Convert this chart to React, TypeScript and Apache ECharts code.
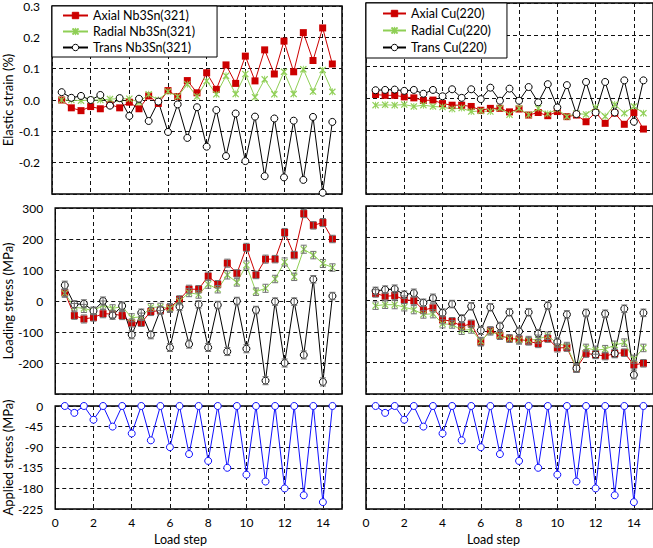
import React, { useEffect, useRef } from 'react';
import * as echarts from 'echarts';

const steps = [0.5, 1, 1.5, 2, 2.5, 3, 3.5, 4, 4.5, 5, 5.5, 6, 6.5, 7, 7.5, 8, 8.5, 9, 9.5, 10, 10.5, 11, 11.5, 12, 12.5, 13, 13.5, 14, 14.5];

// Elastic strain (%) - Nb3Sn(321)
const axialNbStrain = [0, -0.025, -0.034, -0.021, -0.028, -0.014, -0.025, -0.007, -0.028, 0.013, -0.011, 0.03, 0.011, 0.062, 0.023, 0.087, 0.034, 0.112, 0.053, 0.14, 0.061, 0.16, 0.083, 0.188, 0.09, 0.215, 0.126, 0.23, 0.115];
const radialNbStrain = [0, 0, -0.002, 0, 0, 0.003, 0.004, 0.004, -0.007, 0.018, 0, 0.027, 0.011, 0.05, 0.011, 0.061, 0.018, 0.077, 0.019, 0.083, 0.009, 0.066, 0.018, 0.09, 0.019, 0.098, 0.027, 0.096, 0.026];
const transNbStrain = [0.025, 0.007, 0.013, 0, 0.016, -0.018, 0.006, -0.051, 0.004, -0.067, -0.005, -0.102, -0.014, -0.121, -0.023, -0.149, -0.032, -0.179, -0.043, -0.195, -0.053, -0.243, -0.059, -0.247, -0.066, -0.255, -0.054, -0.296, -0.07];

// Elastic strain (%) - Cu(220)
const axialCuStrain = [0.0125, 0.01, 0.01, 0.005, 0.002, -0.006, -0.005, -0.016, -0.021, -0.021, -0.025, -0.037, -0.031, -0.031, -0.042, -0.033, -0.052, -0.044, -0.054, -0.041, -0.057, -0.052, -0.073, -0.044, -0.078, -0.046, -0.081, -0.044, -0.096];
const radialCuStrain = [-0.021, -0.02, -0.021, -0.019, -0.025, -0.021, -0.025, -0.027, -0.033, -0.03, -0.041, -0.039, -0.041, -0.03, -0.051, -0.031, -0.051, -0.031, -0.048, -0.033, -0.057, -0.047, -0.05, -0.028, -0.056, -0.019, -0.046, -0.025, -0.046];
const transCuStrain = [0.026, 0.027, 0.028, 0.024, 0.027, 0.015, 0.027, 0.007, 0.029, 0.002, 0.029, -0.002, 0.034, -0.007, 0.031, -0.007, 0.036, -0.012, 0.045, -0.028, 0.042, -0.049, 0.052, -0.044, 0.052, -0.044, 0.057, -0.073, 0.057];

// Loading stress (MPa) - Nb3Sn
const axialNbStress = [27, -47, -58, -53, -41, -42, -47, -71, -70, -34, -31, -21, 5, 38, 38, 80, 54, 122, 89, 173, 84, 135, 135, 221, 148, 282, 244, 253, 200];
const radialNbStress = [25, -20, -24, -32, -13, -24, -18, -54, -51, -21, -19, -24, 0, 27, 21, 54, 38, 84, 60, 116, 30, 41, 71, 126, 78, 167, 148, 121, 108];
const transNbStress = [51, -11, -9, -32, 0, -47, -16, -109, -38, -109, -29, -150, -18, -139, -11, -150, -13, -163, 0, -154, -29, -257, -2, -200, -2, -174, 70, -261, 16];

// Loading stress (MPa) - Cu
const axialCuStress = [21, 12, 14, 1, -2, -32, -25, -63, -68, -84, -76, -134, -97, -113, -123, -125, -132, -139, -123, -153, -152, -218, -171, -174, -179, -171, -168, -207, -202];
const radialCuStress = [-18, -15, -15, -23, -31, -46, -44, -76, -78, -97, -94, -132, -100, -113, -123, -128, -128, -125, -114, -139, -147, -216, -153, -160, -157, -144, -136, -189, -153];
const transCuStress = [29, 33, 35, 17, 22, -9, 6, -41, -13, -60, -20, -97, -23, -84, -39, -100, -39, -107, -18, -134, -46, -218, -41, -174, -44, -171, -28, -239, -41];

// error bars (MPa)
const errNb = [13, 12, 13, 12, 13, 12, 13, 13, 12, 13, 12, 13, 12, 13, 12, 13, 12, 13, 12, 13, 12, 13, 12, 13, 12, 13, 12, 13, 12];
const errCu = [12, 12, 13, 12, 13, 12, 13, 13, 12, 13, 12, 13, 12, 13, 12, 13, 12, 13, 12, 13, 12, 13, 12, 13, 12, 13, 12, 13, 12];

// Applied stress (MPa)
const applied = [0, -15, 0, -30, 0, -45, 0, -60, 0, -75, 0, -90, 0, -105, 0, -120, 0, -135, 0, -150, 0, -165, 0, -180, 0, -195, 0, -210, 0];

const legendNb = ['Axial Nb3Sn(321)', 'Radial Nb3Sn(321)', 'Trans Nb3Sn(321)'];
const legendCu = ['Axial Cu(220)', 'Radial Cu(220)', 'Trans Cu(220)'];

const FONT = 'Lato';
const RED = '#cc0000';
const GREEN = '#8fcf55';
const BLACK = '#000000';
const BLUE = '#1010ff';
const STAR = 'path://M0,1.2L1.2,0L5,3.8L8.8,0L10,1.2L6.2,5L10,8.8L8.8,10L5,6.2L1.2,10L0,8.8L3.8,5Z M4.4,0L5.6,0L5.6,10L4.4,10Z';

function pairs(arr: number[]) {
  return steps.map((s, i) => [s, arr[i]]);
}
function triples(arr: number[], err: number[]) {
  return steps.map((s, i) => [s, arr[i], err[i]]);
}

const styleFor = (kind: string) => {
  if (kind === 'axial') return { symbol: 'rect', symbolSize: 7, lineStyle: { color: RED, width: 1 }, itemStyle: { color: RED, borderColor: RED, borderWidth: 0 } };
  if (kind === 'radial') return { symbol: STAR, symbolSize: 7, lineStyle: { color: GREEN, width: 1 }, itemStyle: { color: GREEN, borderColor: GREEN, borderWidth: 0 } };
  return { symbol: 'circle', symbolSize: 7, lineStyle: { color: BLACK, width: 1 }, itemStyle: { color: '#fff', borderColor: BLACK, borderWidth: 1 } };
};

function lineSeries(name: string, kind: string, data: number[], gi: number, z = 3) {
  return {
    type: 'line', name, xAxisIndex: gi, yAxisIndex: gi, data: pairs(data), z,
    showAllSymbol: true, ...styleFor(kind), emphasis: { disabled: true },
  };
}

function errSeries(name: string, data: number[], err: number[], gi: number) {
  return {
    type: 'custom', name, xAxisIndex: gi, yAxisIndex: gi, z: 5,
    data: triples(data, err),
    encode: { x: 0, y: 1 },
    renderItem: (params: any, api: any) => {
      const x = api.value(0), y = api.value(1), e = api.value(2);
      const hi = api.coord([x, y + e]);
      const lo = api.coord([x, y - e]);
      const hw = 3;
      const st = { stroke: '#707070', lineWidth: 1 };
      return {
        type: 'group', children: [
          { type: 'line', shape: { x1: hi[0], y1: hi[1], x2: lo[0], y2: lo[1] }, style: st },
          { type: 'line', shape: { x1: hi[0] - hw, y1: hi[1], x2: hi[0] + hw, y2: hi[1] }, style: st },
          { type: 'line', shape: { x1: lo[0] - hw, y1: lo[1], x2: lo[0] + hw, y2: lo[1] }, style: st },
        ],
      };
    },
  };
}

export default function App() {
  const ref = useRef<HTMLDivElement>(null);
  useEffect(() => {
    if (!ref.current) return;
    const chart = echarts.init(ref.current, undefined, { renderer: 'svg' });
    const grids = [
      { left: 52, top: 6, width: 290, height: 188 },
      { left: 366, top: 3, width: 292, height: 191 },
      { left: 52, top: 208, width: 290, height: 186 },
      { left: 366, top: 206, width: 292, height: 188 },
      { left: 52, top: 406, width: 290, height: 103 },
      { left: 366, top: 406, width: 292, height: 103 },
    ].map((g) => ({ ...g, show: true, borderColor: '#000', borderWidth: 1.5, containLabel: false }));

    const split = { show: true, lineStyle: { color: '#111', type: [4, 3], width: 1 } };
    const xAxis = grids.map((_, i) => ({
      type: 'value', gridIndex: i, min: 0, max: 15, interval: 2,
      axisLine: { show: false }, axisTick: { show: false }, splitLine: split,
      axisLabel: { show: i >= 4, showMaxLabel: false, margin: 7, color: '#000', fontSize: 12, fontFamily: FONT },
    }));
    const yCfg = [
      { min: -0.3, max: 0.3, interval: 0.1, name: 'Elastic strain (%)', fmt: (v: number) => (Math.abs(v) < 1e-9 ? '0.0' : v.toFixed(1)), hideMin: true },
      { min: -300, max: 300, interval: 100, name: 'Loading stress (MPa)', fmt: (v: number) => String(Math.round(v)), hideMin: true },
      { min: -225, max: 0, interval: 45, name: 'Applied stress (MPa)', fmt: (v: number) => String(Math.round(v)), hideMin: false },
    ];
    const yAxis = grids.map((_, i) => {
      const c = yCfg[Math.floor(i / 2)];
      const left = i % 2 === 0;
      return {
        type: 'value', gridIndex: i, min: c.min, max: c.max, interval: c.interval,
        axisLine: { show: false }, axisTick: { show: false }, splitLine: split,
        name: left ? c.name : '', nameLocation: 'middle', nameGap: 33, nameRotate: 90,
        nameTextStyle: { color: '#000', fontSize: 13, fontFamily: FONT },
        axisLabel: { show: left, formatter: c.fmt, showMinLabel: !c.hideMin, margin: 12, color: '#000', fontSize: 12, fontFamily: FONT },
      };
    });

    const blueLine = (name: string, gi: number) => ({
      type: 'line', name, xAxisIndex: gi, yAxisIndex: gi, data: pairs(applied),
      symbol: 'circle', symbolSize: 7, lineStyle: { color: BLUE, width: 1 },
      itemStyle: { color: '#fff', borderColor: BLUE, borderWidth: 1 }, emphasis: { disabled: true },
    });

    const series: any[] = [
      lineSeries(legendNb[0], 'axial', axialNbStrain, 0),
      lineSeries(legendNb[1], 'radial', radialNbStrain, 0),
      lineSeries(legendNb[2], 'trans', transNbStrain, 0),
      lineSeries(legendCu[0], 'axial', axialCuStrain, 1),
      lineSeries(legendCu[1], 'radial', radialCuStrain, 1),
      lineSeries(legendCu[2], 'trans', transCuStrain, 1),
      lineSeries('Axial Nb3Sn stress', 'axial', axialNbStress, 2),
      lineSeries('Radial Nb3Sn stress', 'radial', radialNbStress, 2),
      lineSeries('Trans Nb3Sn stress', 'trans', transNbStress, 2),
      errSeries('err1', axialNbStress, errNb, 2),
      errSeries('err2', radialNbStress, errNb, 2),
      errSeries('err3', transNbStress, errNb, 2),
      lineSeries('Axial Cu stress', 'axial', axialCuStress, 3),
      lineSeries('Radial Cu stress', 'radial', radialCuStress, 3),
      lineSeries('Trans Cu stress', 'trans', transCuStress, 3),
      errSeries('err4', axialCuStress, errCu, 3),
      errSeries('err5', radialCuStress, errCu, 3),
      errSeries('err6', transCuStress, errCu, 3),
      blueLine('Applied L', 4),
      blueLine('Applied R', 5),
    ];

    const legendBase = {
      orient: 'vertical', backgroundColor: '#fff', borderColor: '#000', borderWidth: 1,
      itemWidth: 25, itemHeight: 8, itemGap: 3, selectedMode: false, z: 10,
      itemStyle: { borderWidth: 1 },
      textStyle: { color: '#000', fontSize: 12.5, fontFamily: FONT },
    };

    chart.setOption({
      animation: false,
      textStyle: { fontFamily: FONT },
      grid: grids,
      xAxis,
      yAxis,
      legend: [
        { ...legendBase, data: legendNb, left: 52, top: 6, padding: [3, 22, 3, 10] },
        { ...legendBase, data: legendCu, left: 366, top: 3, padding: [4, 16, 4, 16], itemWidth: 23, itemGap: 4 },
      ],
      graphic: [
        { type: 'text', left: 154, top: 533, style: { text: 'Load step', fill: '#000', font: `12.5px ${FONT}` } },
        { type: 'text', left: 467, top: 533, style: { text: 'Load step', fill: '#000', font: `12.5px ${FONT}` } },
      ],
      series,
    });
    return () => chart.dispose();
  }, []);
  return <div ref={ref} style={{ position: 'absolute', left: 0, top: 0, width: 653, height: 548, overflow: 'hidden', background: '#fff' }} />;
}
